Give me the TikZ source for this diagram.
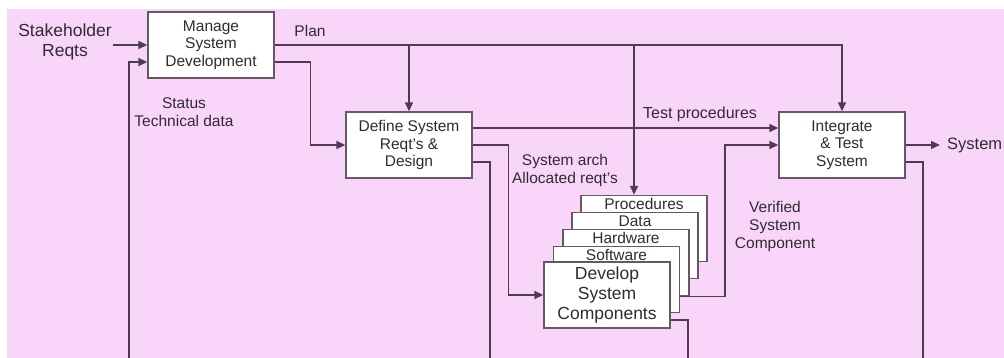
\documentclass[tikz,border=0pt]{standalone}
\usepackage{fontspec}
\setmainfont{Liberation Sans}
\usetikzlibrary{arrows.meta}
\definecolor{bg}{RGB}{250,213,250}
\definecolor{ln}{RGB}{80,60,80}
\definecolor{bx}{RGB}{100,88,100}
\definecolor{tx}{RGB}{50,42,50}
\tikzset{
  box/.style={draw=bx, line width=1.4pt, fill=white, minimum width=126pt, minimum height=66pt,
    inner sep=0pt, text=tx, align=center, font=\fontsize{15.5}{17.5}\selectfont},
  lbl/.style={text=tx, align=center, inner sep=0pt, font=\fontsize{15.5}{18}\selectfont},
  wire/.style={draw=ln, line width=1.5pt},
  arr/.style={wire, -{Triangle[length=9pt,width=8pt]}},
}
\begin{document}
\begin{tikzpicture}[x=1pt,y=-1pt]
\useasboundingbox (0,0) rectangle (1004,358);
\fill[bg] (7,9) rectangle (1004,358);

% boxes
\node[box] (manage) at (211,45) {Manage\\System\\Development};
\node[box] (define) at (409,145) {Define System\\Reqt's \&\\Design};
\node[box] (integ) at (842,145) {Integrate\\\& Test\\System};
\node[box] (proc) at (644,228.5) {};
\node[lbl] (tproc) at ([yshift=-9.5pt]proc.north) {Procedures};
\node[box] (data) at (635,245.5) {};
\node[lbl] (tdata) at ([yshift=-9.5pt]data.north) {Data};
\node[box] (hw) at (626,262.5) {};
\node[lbl] (thw) at ([yshift=-9.5pt]hw.north) {Hardware};
\node[box] (sw) at (616.5,279.5) {};
\node[lbl] (tsw) at ([yshift=-9.5pt]sw.north) {Software};
\node[box, font=\fontsize{17.5}{20}\selectfont] (dev) at (607,295) {Develop\\System\\Components};

% labels
\node[lbl, font=\fontsize{17.5}{20}\selectfont] (stake) at (65,42) {Stakeholder\\Reqts};
\node[lbl] (plan) at (310,31) {Plan};
\node[lbl] (status) at (184,112) {Status\\Technical data};
\node[lbl, font=\fontsize{16}{18}\selectfont] (tp) at (700,114) {Test procedures};
\node[lbl] (arch) at (565,170) {System arch\\Allocated reqt's};
\node[lbl] (ver) at (775,226) {Verified\\System\\Component};
\node[lbl, anchor=west, font=\fontsize{16.5}{20}\selectfont] (sys) at (947,145) {System};

% free ends
\coordinate (sin) at (113,45);
\coordinate (b1) at (129,360);
\coordinate (b2) at (490,360);
\coordinate (b3) at (688,360);
\coordinate (b4) at (923,360);
\coordinate (pin) at ([xshift=-10pt]proc.north);

% connectors
\draw[arr] (sin) -- (manage.west);
\draw[arr] (b1) |- ([yshift=-17pt]manage.west);
\draw[arr] (manage.east) -| (integ.north);
\draw[arr] (define.north |- manage.east) -- (define.north);
\draw[arr] (pin |- manage.east) -- (pin);
\draw[arr] ([yshift=-17pt]manage.east) -- ++(36,0) |- (define.west);
\draw[arr] ([yshift=17pt]define.east) -- ([yshift=17pt]integ.west);
\draw[arr] (define.east) -- ++(36,0) |- (dev.west);
\draw[wire] ([yshift=-17pt]define.east) -| (b2);
\draw[arr] ([yshift=-17pt]sw.east) -- ++(45,0) |- (integ.west);
\draw[wire] ([yshift=-25pt]dev.east) -| (b3);
\draw[arr] (integ.east) -- ([xshift=-7pt]sys.west);
\draw[wire] ([yshift=-17pt]integ.east) -| (b4);
\end{tikzpicture}
\end{document}
